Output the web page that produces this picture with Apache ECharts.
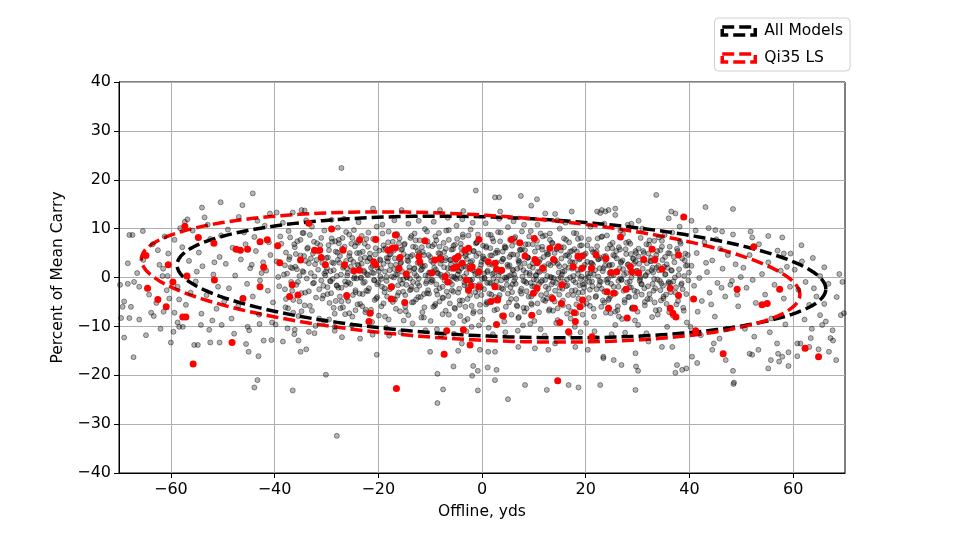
<!DOCTYPE html>
<html>
<head>
<meta charset="utf-8">
<title>Offline vs carry</title>
<script src="https://cdn.jsdelivr.net/npm/echarts@6.0.0/dist/echarts.min.js"></script>
<style>
  html, body { margin: 0; padding: 0; background: #fff; }
  #chart { width: 966px; height: 544px; }
</style>
</head>
<body>
<div id="chart"></div>
<script>
// tick labels
var xTicks = [-60, -40, -20, 0, 20, 40, 60];
var legendNames = ['All Models', 'Qi35 LS'];

// ellipses: [centre x, centre y, semi-major, semi-minor, angle deg]
var allModelsEllipse = [3.75, 0.1, 62.6, 12.2, -2.33];
var qi35Ellipse = [-2.2, 0.1, 63.6, 12.8, -3.38];

// all models shots [offline yds, % of mean carry]
var grayPts = [
  // sparse outer shots
  [-27.1,22.4],[-50.4,15.4],[-54.0,14.3],[-44.2,17.2],[-46.2,14.8],[-39.6,13.3],[-36.5,13.3],[-34.8,13.8],[-34.2,13.7],[-56.8,11.9],[-57.3,11.4],[-65.4,9.5],[-68.0,8.7],[-67.4,8.7],[-59.3,7.7],[-68.3,2.9],
  [-1.2,17.8],[2.5,16.4],[3.3,16.4],[7.5,16.7],[9.5,14.7],[10.6,16.0],[-8.1,13.8],[-3.6,13.6],[-15.5,13.8],[-21.0,14.1],[3.5,13.5],[12.2,13.1],[14.1,13.0],[17.3,13.5],[22.2,13.5],[23.1,13.8],
  [33.6,16.9],[43.1,14.4],[48.4,14.0],[36.5,13.5],[37.3,13.1],[36.0,12.1],[30.2,11.6],[25.7,14.1],[24.4,13.8],[23.8,13.5],[22.8,13.2],[25.7,12.8],[40.4,11.6],[43.7,10.1],[45.0,9.7],[46.3,9.4],[51.8,9.4],[52.1,8.2],[55.2,8.5],[57.9,8.2],[61.6,6.6],[58.2,4.9],[59.5,4.9],[66.0,2.1],[68.9,0.7],[69.5,-0.9],[69.8,-7.3],[69.2,-7.7],[64.0,-2.2],[65.2,-7.7],[66.3,-9.0],[65.6,-9.7],[67.2,-12.4],[67.7,-12.9],[66.9,-15.2],[68.3,-16.9],[64.9,-14.7],[63.1,-14.2],[60.8,-13.5],[61.4,-13.5],[60.8,-16.1],[63.6,-10.5],[63.4,-12.4],[59.1,-15.3],[57.1,-15.6],[57.3,-17.2],[59.1,-18.1],[55.2,-18.6],[55.7,-16.9],[57.9,-16.2],[56.9,-13.5],[53.3,-14.8],[52.1,-15.8],[51.6,-15.6],[48.4,-19.1],[48.6,-21.5],[47.0,-16.9],[44.4,-14.8],[44.7,-13.5],[40.5,-16.2],[41.5,-17.5],[37.6,-17.9],[38.6,-18.9],[37.3,-19.5],[39.4,-18.6],[29.7,-18.2],[30.1,-19.1],[26.9,-17.9],[29.6,-23.0],[22.8,-22.0],[23.4,-16.5],[25.4,-16.9],[29.6,-15.5],[34.7,-14.2],[36.7,-14.2],[32.1,-13.1],
  [-20.3,-15.8],[-10.0,-15.2],[-5.5,-18.2],[-8.6,-19.7],[-7.5,-22.9],[-1.7,-18.1],[-0.8,-19.1],[-1.9,-20.1],[-0.8,-23.1],[1.1,-18.4],[2.8,-18.9],[2.5,-21.0],[8.3,-22.0],[5.0,-24.9],[12.5,-23.0],[16.7,-22.0],[18.6,-22.5],[23.4,-16.2],[-4.6,-15.0],[-3.9,-13.5],[-0.4,-14.8],[1.2,-15.2],[2.5,-15.2],[7.0,-14.2],[10.2,-14.5],[12.8,-14.8],[14.1,-13.5],[18.0,-14.2],[20.4,-14.8],
  [-43.9,-22.5],[-36.5,-23.1],[-8.6,-25.7],[-28.0,-32.4],[48.5,-21.8],
  [-69.0,-12.3],[-67.2,-16.3],[-60.0,-13.3],[-59.5,-11.1],[-58.7,-9.2],[-58.4,-10.1],[-57.7,-10.1],[-55.5,-13.8],[-54.8,-13.8],[-52.4,-13.3],[-50.6,-13.3],[-54.2,-9.7],[-52.6,-10.7],[-50.2,-9.7],[-45.5,-13.6],[-43.1,-16.1],[-43.3,-21.0],[-42.1,-12.9],[-40.6,-12.8],[-38.4,-13.1],[-35.0,-15.2],[-33.9,-14.7],[-30.1,-19.9],[-45.2,-10.1],[-42.9,-9.5],[-36.1,-10.7],[-33.4,-11.1],[-32.3,-11.4],[-28.4,-10.1],[-66.1,-8.6],[-68.0,-8.3],[-69.6,-8.3],[-67.7,-6.0],[-69.0,-4.9],[-69.3,-6.0],[-69.8,-1.5],[-68.3,-1.3],[-67.1,-0.9],[-66.1,-1.9],[-63.8,-7.2],[-63.3,-7.9],[-61.4,-7.0],[-59.3,-7.2],[-58.4,-4.5],[-60.3,-4.3],[-58.7,-1.9],[-60.6,0.3],[-61.6,0.3],[-62.2,2.6],[-62.5,5.6],[-65.3,3.6],
  // -70 .. -50
  [-64.2,-3.5],[-62.8,-5.2],[-61.5,1.8],[-63.5,6.8],[-60.8,-2.6],[-66.5,0.9],[-61.2,8.4],[-62.0,-10.5],[-64.8,-11.8],[-60.5,4.9],
  [-57.8,6.2],[-56.5,3.4],[-55.2,-0.8],[-54.6,5.1],[-53.9,2.3],[-53.1,-3.6],[-52.4,7.9],[-51.8,0.6],[-51.2,-6.4],[-50.6,4.2],[-56.2,-3.1],[-55.8,9.6],[-54.1,-7.4],[-52.9,10.8],[-50.9,-1.9],[-57.1,-5.6],[-53.5,12.3],[-51.6,3.1],[-58.2,10.1],[-55.0,1.2],[-52.0,-8.8],[-50.3,8.6],
  // -50 .. -30
  [-49.4,2.8],[-48.8,-2.2],[-48.1,6.1],[-47.6,0.4],[-47.0,-5.8],[-46.5,3.7],[-45.9,9.2],[-45.3,-1.3],[-44.7,1.9],[-44.2,-3.9],[-43.6,5.4],[-43.0,-7.6],[-42.5,0.9],[-41.9,10.6],[-41.3,-2.7],[-40.8,4.6],[-40.3,-5.1],[-49.0,9.8],[-48.3,-8.4],[-46.9,12.4],[-45.6,6.8],[-44.9,-10.8],[-43.9,8.3],[-42.8,-0.6],[-42.2,3.1],[-41.1,7.2],[-40.5,-9.2],[-47.8,-11.5],[-46.1,-4.2],[-44.4,2.6],[-43.3,11.6],[-41.6,1.4],[-49.7,-4.9],[-45.0,-15.2],[-40.9,13.1],
  [-39.6,3.3],[-39.1,-1.8],[-38.7,6.9],[-38.2,0.6],[-37.8,-4.4],[-37.3,9.5],[-36.9,2.1],[-36.4,-7.2],[-35.9,4.8],[-35.5,-0.9],[-35.0,7.7],[-34.6,1.3],[-34.1,-3.1],[-33.7,5.9],[-33.2,-5.8],[-32.8,10.4],[-32.3,0.2],[-31.9,3.6],[-31.4,-2.4],[-31.0,8.1],[-30.5,-8.9],[-30.2,2.7],[-39.8,-9.6],[-38.4,11.2],[-37.5,-10.4],[-36.1,6.2],[-35.2,-4.9],[-34.4,9.1],[-33.4,2.9],[-32.6,-1.2],[-31.6,5.3],[-30.8,-4.3],[-39.3,0.1],[-38.9,8.4],[-37.1,4.2],[-36.6,-2.7],[-35.7,1.7],[-34.8,-6.9],[-33.9,11.7],[-33.0,3.9],[-32.1,-9.9],[-31.2,6.6],[-30.4,0.8],[-37.9,-6.1],[-36.2,-11.6],[-34.3,4.4],[-32.4,7.3],[-30.6,-1.7],[-38.0,2.5],[-35.4,-12.9],
  // -30 .. -10
  [-29.7,4.1],[-29.3,-0.7],[-28.9,7.3],[-28.6,1.5],[-28.2,-4.8],[-27.8,10.2],[-27.5,3.0],[-27.1,-2.1],[-26.7,5.7],[-26.4,-7.5],[-26.0,0.4],[-25.6,8.8],[-25.3,2.2],[-24.9,-3.6],[-24.5,6.4],[-24.2,-0.2],[-23.8,11.3],[-23.4,3.8],[-23.1,-5.9],[-22.7,1.1],[-22.3,7.9],[-22.0,-2.8],[-21.6,4.9],[-21.2,-9.1],[-20.9,0.9],[-20.5,6.0],[-20.2,-1.4],[-29.5,-8.6],[-29.0,11.8],[-28.4,-10.9],[-27.9,5.1],[-27.3,-6.3],[-26.9,8.1],[-26.2,3.4],[-25.8,-1.0],[-25.1,-9.8],[-24.7,9.7],[-24.0,2.6],[-23.6,-3.3],[-23.0,5.3],[-22.5,-7.1],[-21.9,9.2],[-21.4,2.0],[-20.7,-4.6],[-29.9,1.9],[-28.0,-1.6],[-26.6,12.0],[-25.5,5.0],[-24.4,-6.7],[-23.3,0.0],[-22.1,3.3],[-20.3,10.4],[-29.1,-3.2],[-27.6,7.0],[-26.1,-4.1],[-24.8,1.3],[-23.9,7.1],[-22.6,-0.9],[-21.1,-11.7],[-20.6,2.9],[-27.0,-12.2],[-23.5,-12.5],
  [-19.7,3.7],[-19.4,-0.3],[-19.0,6.6],[-18.7,1.2],[-18.3,-3.9],[-18.0,9.4],[-17.6,2.5],[-17.3,-1.8],[-17.0,5.5],[-16.6,-6.4],[-16.3,0.6],[-15.9,8.0],[-15.6,3.1],[-15.2,-2.9],[-14.9,6.9],[-14.5,0.1],[-14.2,11.0],[-13.8,4.3],[-13.5,-5.1],[-13.1,1.8],[-12.8,7.6],[-12.4,-1.2],[-12.1,5.0],[-11.7,-8.2],[-11.4,2.3],[-11.0,9.9],[-10.7,-0.8],[-10.3,4.6],[-19.9,-7.8],[-19.2,10.8],[-18.5,-10.3],[-17.8,4.7],[-17.1,-4.4],[-16.4,8.7],[-15.8,-0.5],[-15.1,-8.8],[-14.4,3.5],[-13.7,-2.4],[-13.0,9.0],[-12.3,-4.0],[-11.6,6.2],[-10.9,-10.8],[-10.2,1.0],[-19.5,1.9],[-18.8,-2.2],[-18.1,7.2],[-17.4,0.2],[-16.8,3.9],[-16.1,-3.1],[-15.4,5.8],[-14.7,-6.9],[-14.0,1.4],[-13.3,6.3],[-12.6,0.3],[-11.9,3.0],[-11.2,-3.4],[-10.5,7.4],[-19.0,-5.3],[-17.9,-11.9],[-16.9,11.7],[-15.7,-11.2],[-14.6,-1.5],[-13.4,-9.4],[-12.2,11.6],[-11.1,-6.1],[-10.4,-2.6],[-18.4,4.0],[-16.2,1.6],[-13.9,-0.2],[-11.8,1.5],
  // -10 .. 10
  [-9.8,3.4],[-9.5,-0.6],[-9.2,6.8],[-8.9,1.6],[-8.6,-3.5],[-8.3,9.1],[-8.0,2.8],[-7.6,-1.9],[-7.3,5.2],[-7.0,-6.8],[-6.7,0.7],[-6.4,7.7],[-6.1,3.6],[-5.8,-2.6],[-5.5,6.5],[-5.2,-0.1],[-4.9,10.6],[-4.6,4.0],[-4.3,-4.7],[-4.0,1.9],[-3.7,8.3],[-3.4,-1.0],[-3.1,4.8],[-2.8,-8.5],[-2.5,2.4],[-2.2,9.8],[-1.9,-0.4],[-1.6,5.4],[-1.3,-3.0],[-1.0,7.1],[-0.7,0.9],[-0.4,-5.6],[-0.1,3.2],[-9.9,-8.9],[-9.3,11.4],[-8.7,-10.6],[-8.1,4.9],[-7.5,-4.2],[-6.9,9.6],[-6.2,-0.9],[-5.6,-9.3],[-5.0,2.9],[-4.4,-2.3],[-3.8,11.9],[-3.2,-6.0],[-2.6,6.0],[-2.0,-10.1],[-1.4,1.3],[-0.8,8.8],[-0.2,-2.0],[-9.6,1.1],[-8.8,-1.4],[-8.2,6.3],[-7.7,0.1],[-7.1,3.5],[-6.5,-3.8],[-5.9,5.7],[-5.3,-6.2],[-4.7,0.6],[-4.1,6.9],[-3.5,0.2],[-2.9,3.8],[-2.3,-3.6],[-1.7,-7.3],[-1.1,4.4],[-0.5,-1.4],[-9.0,-5.4],[-7.9,-11.8],[-6.6,12.2],[-5.4,-11.5],[-4.2,-7.9],[-3.0,-11.0],[-1.8,11.2],[-0.6,-9.8],[-6.0,1.8],
  [0.2,3.9],[0.5,-0.2],[0.8,6.4],[1.1,1.4],[1.4,-3.3],[1.7,8.7],[2.0,2.6],[2.3,-1.6],[2.6,5.0],[2.9,-6.5],[3.2,0.4],[3.5,7.4],[3.8,3.3],[4.1,-2.4],[4.4,6.1],[4.7,0.0],[5.0,10.3],[5.3,4.2],[5.6,-4.4],[5.9,1.6],[6.2,8.0],[6.5,-1.3],[6.8,4.6],[7.1,-8.1],[7.4,2.1],[7.7,9.4],[8.0,-0.7],[8.3,5.6],[8.6,-2.8],[8.9,6.8],[9.2,0.5],[9.5,-5.3],[9.8,2.9],[0.1,-8.6],[0.7,11.1],[1.3,-10.3],[1.9,4.5],[2.5,-4.0],[3.1,9.3],[3.7,-0.6],[4.3,-9.0],[4.9,2.6],[5.5,-2.0],[6.1,11.5],[6.7,-5.7],[7.3,5.7],[7.9,-9.8],[8.5,1.0],[9.1,8.4],[9.7,-1.8],[0.4,0.8],[1.0,-1.1],[1.6,6.0],[2.2,-0.2],[2.8,3.1],[3.4,-3.6],[4.0,5.3],[4.6,-6.0],[5.2,0.3],[5.8,6.5],[6.4,-0.1],[7.0,3.5],[7.6,-3.3],[8.2,-7.0],[8.8,4.0],[9.4,-1.1],[0.9,-5.0],[2.1,-11.6],[3.3,12.0],[4.5,-11.2],[5.7,-7.6],[6.9,-10.9],[8.1,10.8],[9.3,-9.5],[6.0,1.5],
  // 10 .. 30
  [10.2,3.6],[10.5,-0.5],[10.8,6.2],[11.1,1.1],[11.4,-3.6],[11.7,8.4],[12.0,2.3],[12.3,-1.9],[12.6,4.7],[12.9,-6.8],[13.2,0.1],[13.5,7.1],[13.8,3.0],[14.1,-2.7],[14.4,5.8],[14.7,-0.3],[15.0,10.0],[15.3,3.9],[15.6,-4.7],[15.9,1.3],[16.2,7.7],[16.5,-1.6],[16.8,4.3],[17.1,-8.4],[17.4,1.8],[17.7,9.1],[18.0,-1.0],[18.3,5.3],[18.6,-3.1],[18.9,6.5],[19.2,0.2],[19.5,-5.6],[19.8,2.6],[10.1,-8.9],[10.7,10.8],[11.3,-10.6],[11.9,4.2],[12.5,-4.3],[13.1,9.0],[13.7,-0.9],[14.3,-9.3],[14.9,2.3],[15.5,-2.3],[16.1,11.2],[16.7,-6.0],[17.3,5.4],[17.9,-10.1],[18.5,0.7],[19.1,8.1],[19.7,-2.1],[10.4,0.5],[11.0,-1.4],[11.6,5.7],[12.2,-0.5],[12.8,2.8],[13.4,-3.9],[14.0,5.0],[14.6,-6.3],[15.2,0.0],[15.8,6.2],[16.4,-0.4],[17.0,3.2],[17.6,-3.6],[18.2,-7.3],[18.8,3.7],[19.4,-1.4],[12.1,-11.9],[14.5,11.7],[16.9,-11.5],[19.0,-11.2],
  [20.3,3.2],[20.7,-0.9],[21.1,5.8],[21.5,0.7],[21.9,-4.0],[22.3,8.0],[22.7,1.9],[23.1,-2.3],[23.5,4.3],[23.9,-7.2],[24.3,-0.3],[24.7,6.7],[25.1,2.6],[25.5,-3.1],[25.9,5.4],[26.3,-0.7],[26.7,9.6],[27.1,3.5],[27.5,-5.1],[27.9,0.9],[28.3,7.3],[28.7,-2.0],[29.1,3.9],[29.5,-8.8],[29.9,1.4],[20.1,-9.3],[20.9,10.4],[21.7,-11.0],[22.5,3.8],[23.3,-4.7],[24.1,8.6],[24.9,-1.3],[25.7,-9.7],[26.5,1.9],[27.3,-2.7],[28.1,10.8],[28.9,-6.4],[29.7,5.0],[20.5,0.1],[21.3,-1.8],[22.1,5.3],[22.9,-0.9],[23.7,2.4],[24.5,-4.3],[25.3,4.6],[26.1,-6.7],[26.9,-0.4],[27.7,5.8],[28.5,-0.8],[29.3,2.8],[20.8,-5.8],[22.0,-12.4],[23.6,11.0],[25.0,-11.6],[26.4,-8.0],[27.6,-11.3],[28.8,11.0],[29.6,-3.9],[24.6,0.9],[21.4,2.6],[26.8,3.0],[28.2,-4.0],
  // 30 .. 70
  [30.3,2.8],[30.7,-1.3],[31.1,5.4],[31.5,0.3],[31.9,-4.4],[32.3,7.6],[32.7,1.5],[33.1,-2.7],[33.5,3.9],[33.9,-7.6],[34.3,-0.7],[34.7,6.3],[35.1,2.2],[35.5,-3.5],[35.9,5.0],[36.3,-1.1],[36.7,9.2],[37.1,3.1],[37.5,-5.5],[37.9,0.5],[38.3,6.9],[38.7,-2.4],[39.1,3.5],[39.5,-9.2],[39.9,1.0],[30.1,-9.7],[30.9,10.0],[31.7,-11.4],[32.5,3.4],[33.3,-5.1],[34.1,8.2],[34.9,-1.7],[35.7,-10.1],[36.5,1.5],[37.3,-3.1],[38.1,10.4],[38.9,-6.8],[39.7,4.6],[30.5,-0.3],[31.3,-2.2],[32.1,4.9],[32.9,-1.3],[33.7,2.0],[34.5,-4.7],[35.3,4.2],[36.1,-7.1],[36.9,-0.8],[37.7,5.4],[38.5,-1.2],[39.3,2.4],
  [40.4,2.4],[40.9,-1.7],[41.4,5.0],[41.9,-0.1],[42.4,-4.8],[42.9,7.2],[43.4,1.1],[43.9,-3.1],[44.4,3.5],[44.9,-8.0],[45.4,-1.1],[45.9,5.9],[46.4,1.8],[46.9,-3.9],[47.4,4.6],[47.9,-1.5],[48.4,8.8],[48.9,2.7],[49.4,-5.9],[49.9,0.1],[40.2,-10.1],[41.2,9.6],[42.2,-11.8],[43.2,3.0],[44.2,-5.5],[45.2,7.8],[46.2,-2.1],[47.2,-10.5],[48.2,-0.7],[49.2,-3.5],[41.6,-7.0],[45.8,-12.5],
  [50.4,2.0],[51.0,-2.1],[51.6,4.6],[52.2,-0.5],[52.8,-5.2],[53.4,6.8],[54.0,0.7],[54.6,-3.5],[55.2,3.1],[55.8,-8.4],[56.4,-1.5],[57.0,5.5],[57.6,1.4],[58.2,-4.3],[58.8,2.2],[59.4,-1.9],[50.7,-10.5],[52.5,-12.1],[55.5,-11.2],[58.5,-9.6],
  [60.3,1.6],[61.0,-2.5],[61.7,3.3],[62.4,-0.9],[63.1,-5.6],[63.8,4.0],[64.5,-3.9],[65.2,0.3],[66.0,-5.4],[66.8,-1.3],[67.6,-10.8],[68.4,-4.0],[62.2,-8.6],
  // dense core, second pass
  [-38.0,-2.4],[-37.8,5.1],[-37.6,0.8],[-37.4,-6.3],[-37.2,3.7],[-37.0,8.2],[-36.8,-0.9],[-36.6,1.9],[-36.4,-4.6],[-36.2,6.8],
  [-36.0,2.2],[-35.8,-1.5],[-35.6,7.4],[-35.4,-7.9],[-35.2,0.3],[-35.0,4.5],[-34.8,-3.2],[-34.6,9.1],[-34.4,1.1],[-34.2,-5.7],
  [-34.0,3.4],[-33.8,-0.2],[-33.6,6.1],[-33.4,-2.8],[-33.2,8.7],[-33.0,0.9],[-32.8,-6.8],[-32.6,4.9],[-32.4,-1.1],[-32.2,2.7],
  [-32.0,-4.1],[-31.8,7.0],[-31.6,1.6],[-31.4,-8.4],[-31.2,5.6],[-31.0,-0.6],[-30.8,3.0],[-30.6,-3.7],[-30.4,9.6],[-30.2,0.4],
  [-30.0,4.0],[-29.8,-2.0],[-29.6,6.6],[-29.4,-5.2],[-29.2,1.3],[-29.0,8.0],[-28.8,-0.3],[-28.6,2.9],[-28.4,-7.4],[-28.2,5.3],
  [-28.0,-1.7],[-27.8,3.6],[-27.6,7.7],[-27.4,-3.9],[-27.2,0.6],[-27.0,5.9],[-26.8,-6.1],[-26.6,2.3],[-26.4,-0.8],[-26.2,9.3],
  [-26.0,1.8],[-25.8,-4.8],[-25.6,4.4],[-25.4,-1.3],[-25.2,6.9],[-25.0,-8.0],[-24.8,3.2],[-24.6,0.1],[-24.4,-2.6],[-24.2,7.2],
  [-24.0,-5.5],[-23.8,2.5],[-23.6,5.0],[-23.4,-0.1],[-23.2,8.5],[-23.0,-3.4],[-22.8,1.4],[-22.6,4.1],[-22.4,-6.6],[-22.2,0.7],
  [-22.0,6.3],[-21.8,-2.2],[-21.6,3.9],[-21.4,-7.2],[-21.2,1.0],[-21.0,7.9],[-20.8,-0.5],[-20.6,4.7],[-20.4,-4.3],[-20.2,2.0],
  [-20.0,-1.0],[-19.8,5.5],[-19.6,0.2],[-19.4,-5.9],[-19.2,9.0],[-19.0,2.8],[-18.8,-3.0],[-18.6,6.0],[-18.4,-0.7],[-18.2,3.3],
  [-18.0,-8.6],[-17.8,1.5],[-17.6,4.8],[-17.4,-2.1],[-17.2,7.3],[-17.0,0.0],[-16.8,-4.5],[-16.6,2.6],[-16.4,8.9],[-16.2,-1.6],
  [-16.0,3.8],[-15.8,-6.9],[-15.6,5.7],[-15.4,1.2],[-15.2,-0.4],[-15.0,6.7],[-14.8,-3.6],[-14.6,0.5],[-14.4,4.3],[-14.2,-7.7],
  [-14.0,2.1],[-13.8,8.1],[-13.6,-1.9],[-13.4,4.6],[-13.2,-5.0],[-13.0,0.8],[-12.8,6.2],[-12.6,-2.5],[-12.4,3.0],[-12.2,-0.2],
  [-12.0,7.6],[-11.8,-4.0],[-11.6,1.7],[-11.4,5.2],[-11.2,-8.2],[-11.0,2.4],[-10.8,-1.2],[-10.6,9.4],[-10.4,0.3],[-10.2,-3.3],
  [-10.0,4.2],[-9.8,-0.9],[-9.6,6.4],[-9.4,-6.0],[-9.2,2.0],[-9.0,8.4],[-8.8,-2.7],[-8.6,1.0],[-8.4,5.0],[-8.2,-4.9],
  [-8.0,0.6],[-7.8,3.5],[-7.6,-7.5],[-7.4,7.1],[-7.2,-0.6],[-7.0,4.0],[-6.8,-2.9],[-6.6,1.9],[-6.4,9.7],[-6.2,-5.3],
  [-6.0,2.7],[-5.8,-1.4],[-5.6,5.8],[-5.4,0.1],[-5.2,-6.4],[-5.0,3.6],[-4.8,7.9],[-4.6,-3.1],[-4.4,1.3],[-4.2,-0.1],
  [-4.0,6.0],[-3.8,-4.7],[-3.6,2.3],[-3.4,-8.9],[-3.2,4.4],[-3.0,0.9],[-2.8,-2.0],[-2.6,8.6],[-2.4,-0.5],[-2.2,3.1],
  [-2.0,-5.8],[-1.8,1.5],[-1.6,5.4],[-1.4,-1.7],[-1.2,7.0],[-1.0,-3.8],[-0.8,0.4],[-0.6,4.9],[-0.4,-7.0],[-0.2,2.6],
  [0.0,-0.3],[0.2,6.5],[0.4,-2.4],[0.6,3.7],[0.8,-5.5],[1.0,1.1],[1.2,8.8],[1.4,-1.0],[1.6,4.5],[1.8,-3.5],
  [2.0,0.7],[2.2,7.4],[2.4,-6.7],[2.6,2.9],[2.8,-0.8],[3.0,5.1],[3.2,-4.2],[3.4,1.6],[3.6,9.2],[3.8,-2.2],
  [4.0,3.8],[4.2,-7.8],[4.4,0.0],[4.6,6.1],[4.8,-1.5],[5.0,2.2],[5.2,-5.1],[5.4,7.7],[5.6,0.5],[5.8,-3.0],
  [6.0,4.7],[6.2,-0.7],[6.4,8.3],[6.6,-4.4],[6.8,1.8],[7.0,-8.3],[7.2,3.3],[7.4,5.6],[7.6,-2.3],[7.8,0.2],
  [8.0,-6.2],[8.2,2.9],[8.4,6.8],[8.6,-1.1],[8.8,4.1],[9.0,-3.9],[9.2,0.9],[9.4,9.5],[9.6,-5.6],[9.8,2.0],
  [10.0,-0.4],[10.2,5.3],[10.4,-2.8],[10.6,7.5],[10.8,1.2],[11.0,-7.1],[11.2,3.7],[11.4,-0.9],[11.6,6.3],[11.8,-4.6],
  [12.0,1.4],[12.2,8.6],[12.4,-3.3],[12.6,0.3],[12.8,4.8],[13.0,-6.5],[13.2,2.5],[13.4,-1.4],[13.6,7.0],[13.8,-0.1],
  [14.0,-4.9],[14.2,3.4],[14.4,6.0],[14.6,-8.7],[14.8,1.0],[15.0,-2.1],[15.2,5.5],[15.4,0.6],[15.6,-5.7],[15.8,8.0],
  [16.0,2.3],[16.2,-1.8],[16.4,4.6],[16.6,-3.6],[16.8,7.2],[17.0,0.0],[17.2,-6.9],[17.4,3.1],[17.6,-0.6],[17.8,5.8],
  [18.0,-2.6],[18.2,9.0],[18.4,1.6],[18.6,-4.3],[18.8,3.9],[19.0,-0.3],[19.2,6.6],[19.4,-7.6],[19.6,2.1],[19.8,-1.3],
  [20.0,4.9],[20.2,-5.3],[20.4,0.8],[20.6,7.8],[20.8,-2.5],[21.0,3.0],[21.2,-0.8],[21.4,5.2],[21.6,-8.0],[21.8,1.5],
  [22.0,-3.8],[22.2,6.4],[22.4,0.2],[22.6,-1.6],[22.8,4.0],[23.0,-6.0],[23.2,8.4],[23.4,1.9],[23.6,-2.9],[23.8,3.5],
  [24.0,-0.5],[24.2,5.9],[24.4,-4.6],[24.6,2.6],[24.8,-7.3],[25.0,0.4],[25.2,7.1],[25.4,-1.9],[25.6,4.4],[25.8,-3.2],
  [26.0,1.2],[26.2,-5.9],[26.4,6.2],[26.6,-0.2],[26.8,3.2],[27.0,-8.5],[27.2,8.9],[27.4,0.6],[27.6,-2.4],[27.8,4.8],
  [28.0,-1.0],[28.2,2.7],[28.4,-4.0],[28.6,6.9],[28.8,0.0],[29.0,-6.3],[29.2,3.8],[29.4,-2.7],[29.6,5.4],[29.8,1.3],
  [30.0,-7.0],[30.2,4.3],[30.4,-0.7],[30.6,8.1],[30.8,-3.5],[31.0,1.8],[31.2,5.0],[31.4,-5.0],[31.6,0.5],[31.8,2.9],
  [32.0,-1.8],[32.2,6.7],[32.4,-4.4],[32.6,3.3],[32.8,-8.1],[33.0,1.0],[33.2,7.5],[33.4,-2.2],[33.6,4.6],[33.8,-0.4],
  [34.0,2.4],[34.2,-6.6],[34.4,5.6],[34.6,-1.2],[34.8,3.6],[35.0,-3.9],[35.2,8.7],[35.4,0.7],[35.6,-5.4],[35.8,2.0],
  [36.0,-0.9],[36.2,6.3],[36.4,-3.0],[36.6,1.4],[36.8,-7.8],[37.0,4.2],[37.2,0.0],[37.4,-2.0],[37.6,5.9],[37.8,-4.8],
  [38.0,1.7],[38.2,7.3],[38.4,-1.5],[38.6,3.9],[38.8,-6.2],[39.0,0.3],[39.2,4.9],[39.4,-3.4],[39.6,2.5],[39.8,-0.6],
  // dense core, third pass
  [-30.1,1.2],[-29.8,-3.4],[-29.5,5.6],[-29.2,-0.8],[-28.9,3.1],[-28.6,-6.2],[-28.3,7.4],[-28.0,0.3],[-27.7,-2.1],[-27.4,4.4],
  [-27.1,-4.9],[-26.8,2.0],[-26.5,6.3],[-26.2,-1.5],[-25.9,0.9],[-25.6,-7.3],[-25.3,3.7],[-25.0,8.1],[-24.7,-0.2],[-24.4,-3.0],
  [-24.1,5.0],[-23.8,1.6],[-23.5,-5.4],[-23.2,2.8],[-22.9,-1.1],[-22.6,6.9],[-22.3,-2.7],[-22.0,0.5],[-21.7,4.0],[-21.4,-6.6],
  [-21.1,2.4],[-20.8,-0.6],[-20.5,7.8],[-20.2,-4.0],[-19.9,1.3],[-19.6,3.5],[-19.3,-1.9],[-19.0,5.7],[-18.7,-8.0],[-18.4,0.1],
  [-18.1,3.9],[-17.8,-2.4],[-17.5,6.0],[-17.2,-5.0],[-16.9,1.7],[-16.6,0.6],[-16.3,-3.7],[-16.0,7.0],[-15.7,2.9],[-15.4,-1.3],
  [-15.1,4.8],[-14.8,-6.0],[-14.5,0.0],[-14.2,3.3],[-13.9,-2.6],[-13.6,8.5],[-13.3,-0.9],[-13.0,1.9],[-12.7,-4.5],[-12.4,5.4],
  [-12.1,-1.7],[-11.8,2.6],[-11.5,-7.1],[-11.2,4.6],[-10.9,0.4],[-10.6,-3.2],[-10.3,6.5],[-10.0,1.0],[-9.7,-0.5],[-9.4,3.0],
  [-9.1,-5.8],[-8.8,7.6],[-8.5,0.8],[-8.2,-2.2],[-7.9,4.2],[-7.6,-4.1],[-7.3,2.1],[-7.0,5.9],[-6.7,-1.0],[-6.4,-7.6],
  [-6.1,3.6],[-5.8,0.2],[-5.5,-2.9],[-5.2,6.7],[-4.9,-0.3],[-4.6,1.4],[-4.3,-5.6],[-4.0,4.9],[-3.7,8.8],[-3.4,-1.6],
  [-3.1,2.2],[-2.8,-4.4],[-2.5,5.2],[-2.2,-0.7],[-1.9,3.4],[-1.6,-6.9],[-1.3,0.7],[-1.0,7.2],[-0.7,-2.5],[-0.4,1.8],
  [-0.1,-3.6],[0.2,4.3],[0.5,-0.1],[0.8,6.1],[1.1,-5.2],[1.4,2.7],[1.7,-1.2],[2.0,8.0],[2.3,0.9],[2.6,-4.7],
  [2.9,5.5],[3.2,-2.0],[3.5,1.1],[3.8,-7.8],[4.1,3.8],[4.4,6.4],[4.7,-0.4],[5.0,-3.3],[5.3,2.5],[5.6,4.7],
  [5.9,-1.4],[6.2,0.6],[6.5,7.3],[6.8,-5.9],[7.1,3.0],[7.4,-2.8],[7.7,5.8],[8.0,1.5],[8.3,-0.8],[8.6,-6.3],
  [8.9,4.1],[9.2,2.3],[9.5,-3.9],[9.8,6.8],[10.1,-1.8],[10.4,0.4],[10.7,-5.3],[11.0,3.2],[11.3,9.0],[11.6,-0.6],
  [11.9,1.9],[12.2,-4.8],[12.5,5.1],[12.8,-2.3],[13.1,7.7],[13.4,0.0],[13.7,-6.8],[14.0,3.6],[14.3,-1.1],[14.6,2.8],
  [14.9,-3.5],[15.2,6.2],[15.5,1.2],[15.8,-0.9],[16.1,4.5],[16.4,-7.4],[16.7,2.0],[17.0,5.3],[17.3,-2.7],[17.6,0.3],
  [17.9,3.1],[18.2,-5.5],[18.5,7.9],[18.8,-1.6],[19.1,1.6],[19.4,-3.0],[19.7,4.6],[20.0,-0.2],[20.3,6.6],[20.6,-4.2],
  [20.9,0.8],[21.2,2.9],[21.5,-6.4],[21.8,5.0],[22.1,-2.4],[22.4,3.7],[22.7,-0.7],[23.0,8.3],[23.3,1.3],[23.6,-5.1],
  [23.9,4.4],[24.2,-1.0],[24.5,2.4],[24.8,-3.8],[25.1,6.0],[25.4,0.5],[25.7,-7.0],[26.0,3.9],[26.3,-1.9],[26.6,5.7],
  [26.9,-0.5],[27.2,1.7],[27.5,-4.6],[27.8,7.1],[28.1,2.6],[28.4,-2.0],[28.7,4.8],[29.0,-6.1],[29.3,0.8],[29.6,3.3],
  [29.9,-2.9],[30.2,5.9],[30.5,0.1],[30.8,-1.4],[31.1,3.5],[31.4,-5.7],[31.7,6.8],[32.0,1.1],[32.3,-3.4],[32.6,4.0],
  [32.9,2.0],[33.2,-0.3],[33.5,-6.7],[33.8,5.4],[34.1,1.5],[34.4,-2.6],[34.7,7.5],[35.0,-4.3],[35.3,0.6],[35.6,2.7],
  [35.9,-1.2],[36.2,4.9]
];

// Qi35 LS shots
var redPts = [
  [-57.3,10.5],[-54.7,8.2],[-51.7,7.0],[-47.4,5.8],[-46.6,5.6],[-45.2,5.8],[-42.8,7.3],[-41.4,7.7],[-39.4,6.5],[-42.1,2.1],[-39.0,3.0],[-35.0,3.6],[-33.4,11.1],[-32.3,5.6],[-31.3,5.6],[-31.0,4.1],[-30.2,2.6],[-29.0,9.9],[-26.8,5.6],[-26.5,2.6],[-24.7,1.4],[-23.6,7.7],[-60.5,2.6],[-56.9,0.3],[-51.6,-0.5],[-64.5,-2.2],[-59.6,-0.9],[-62.5,-4.5],[-60.9,-6.0],[-57.7,-8.1],[-57.1,-8.1],[-42.8,-1.9],[-36.6,-1.5],[-37.1,-3.9],[-35.5,-3.6],[-46.1,-4.3],[-26.1,-3.7],[-48.2,-13.3],[-55.7,-17.7],[-64.8,4.5],[-16.5,-22.7],[14.6,-21.1],
  [-20.5,7.8],[-16.7,8.7],[-11.0,7.5],[-18.1,5.6],[-17.3,6.0],[-16.7,6.1],[-20.9,3.2],[-20.5,2.6],[-23.6,1.5],[-16.0,1.9],[-15.8,4.1],[-14.6,0.7],[-12.2,4.3],[-12.0,3.2],[-9.7,0.9],[-9.1,3.6],[-8.1,3.9],[-7.1,0.2],[-6.6,-0.9],[-5.2,3.9],[-4.6,4.3],[-5.5,1.9],[-4.9,2.2],[-3.8,2.9],[-3.3,5.6],[-2.6,6.0],[-2.3,1.9],[-1.9,2.2],[-3.0,-0.5],[-2.1,-1.7],[-2.6,-2.6],[-0.6,7.8],[-0.6,1.2],[-0.6,-1.9],[-17.5,-1.9],[-17.5,-4.4],[-14.9,-5.1],[-21.6,-7.3],[-21.8,-9.0],[-7.3,-15.7],[-6.8,-10.9],[-3.6,-10.7],[-2.3,-13.8],
  [1.2,3.2],[2.5,2.9],[2.8,1.7],[3.8,1.5],[2.5,-1.9],[1.7,-4.9],[3.0,-4.6],[4.1,-7.9],[2.8,-9.6],[5.7,7.8],[7.3,7.1],[10.1,8.0],[8.3,4.4],[10.2,3.7],[10.6,3.0],[11.7,1.9],[13.8,3.7],[13.1,6.0],[14.7,6.3],[10.6,-2.2],[9.9,-3.2],[9.6,-7.7],[13.6,-4.3],[15.4,-1.5],[15.3,-5.3],[15.0,-9.2],[16.7,-11.1],[17.6,2.2],[18.5,4.3],[19.3,4.4],[19.3,1.9],[21.1,1.9],[22.0,4.6],[19.4,-4.6],[18.9,-6.0],[17.8,-7.2],[18.0,-9.0],[21.2,-12.1],
  [38.9,12.4],[32.8,5.8],[31.2,3.7],[33.3,3.6],[26.7,8.3],[23.9,3.9],[28.6,2.2],[28.9,1.2],[24.9,1.0],[26.0,1.2],[30.2,0.9],[34.7,1.7],[37.9,4.6],[27.8,-2.4],[24.1,-2.9],[25.4,-3.2],[36.3,-2.2],[37.9,-3.7],[40.8,-4.4],[49.2,-2.4],[57.4,-2.4],[24.4,-6.3],[29.4,-6.3],[36.3,-6.3],[36.8,-7.3],[37.4,-8.1],[28.0,-8.3],[54.0,-5.6],[55.0,-5.3],[41.2,-10.9],[46.5,-15.6],[62.3,-14.5],[64.9,-16.2],[52.4,6.3]
];

var FONT = 'DejaVu Sans';
var FS = 15.5;

function minusSign(v) {
    return String(v).replace('-', '\u2212');
}

// dashed outline of an ellipse given in data units
function ellipseRenderer(color) {
    return function (params, api) {
        var cx = api.value(0), cy = api.value(1);
        var a = api.value(2), b = api.value(3);
        var t = api.value(4) * Math.PI / 180;
        var pts = [];
        for (var i = 0; i < 180; i++) {
            var s = i / 180 * Math.PI * 2;
            var ex = a * Math.cos(s), ey = b * Math.sin(s);
            pts.push(api.coord([cx + ex * Math.cos(t) - ey * Math.sin(t),
                                cy + ex * Math.sin(t) + ey * Math.cos(t)]));
        }
        return {
            type: 'polygon',
            shape: { points: pts },
            style: { fill: 'none', stroke: color, lineWidth: 3.5, lineDash: [12, 5] }
        };
    };
}

var dom = document.getElementById('chart');
var myChart = echarts.init(dom);
var option = {
    animation: false,
    backgroundColor: '#fff',
    textStyle: { fontFamily: FONT },
    grid: {
        left: 119, right: 121, top: 82, bottom: 71,
        show: true, borderColor: '#000', borderWidth: 1
    },
    legend: {
        orient: 'vertical',
        right: 116, top: 18,
        padding: [5, 7, 5, 6],
        itemGap: 11,
        itemWidth: 33, itemHeight: 8,
        borderColor: '#d0d0d0', borderWidth: 1, borderRadius: 4,
        textStyle: { fontFamily: FONT, fontSize: FS, color: '#000', padding: [0, 0, 0, 4] },
        data: [
            { name: legendNames[0], icon: 'rect',
              itemStyle: { color: 'rgba(0,0,0,0)', borderColor: '#000', borderWidth: 3.5, borderType: [12, 5] } },
            { name: legendNames[1], icon: 'rect',
              itemStyle: { color: 'rgba(0,0,0,0)', borderColor: '#ff0000', borderWidth: 3.5, borderType: [12, 5] } }
        ]
    },
    xAxis: {
        type: 'value',
        min: -70, max: 70,
        name: 'Offline, yds',
        nameLocation: 'middle',
        nameGap: 31,
        nameTextStyle: { fontFamily: FONT, fontSize: FS, color: '#000' },
        axisLine: { show: true, onZero: false, lineStyle: { color: '#000', width: 1 } },
        axisTick: { show: true, inside: false, length: 5, customValues: xTicks, lineStyle: { color: '#000' } },
        axisLabel: { customValues: xTicks, fontFamily: FONT, fontSize: 16, color: '#000', margin: 9, formatter: minusSign },
        splitLine: { show: true, lineStyle: { color: '#b0b0b0', width: 1 } }
    },
    yAxis: {
        type: 'value',
        min: -40, max: 40, interval: 10,
        name: 'Percent of Mean Carry',
        nameLocation: 'middle',
        nameGap: 52,
        nameTextStyle: { fontFamily: FONT, fontSize: FS, color: '#000' },
        axisLine: { show: true, onZero: false, lineStyle: { color: '#000', width: 1 } },
        axisTick: { show: true, inside: false, length: 5, lineStyle: { color: '#000' } },
        axisLabel: { fontFamily: FONT, fontSize: 16, color: '#000', margin: 8, formatter: minusSign },
        splitLine: { show: true, lineStyle: { color: '#b0b0b0', width: 1 } }
    },
    series: [
        {
            name: 'All shots',
            type: 'scatter',
            data: grayPts,
            symbolSize: 5,
            silent: true,
            itemStyle: { color: 'rgba(0,0,0,0.36)', borderColor: 'rgba(0,0,0,0.5)', borderWidth: 1 }
        },
        {
            name: 'Qi35 shots',
            type: 'scatter',
            data: redPts,
            symbolSize: 7,
            silent: true,
            itemStyle: { color: '#ff0000', opacity: 1 }
        },
        {
            name: legendNames[0],
            type: 'custom',
            data: [allModelsEllipse],
            encode: { x: 0, y: 1 },
            silent: true,
            renderItem: ellipseRenderer('#000000')
        },
        {
            name: legendNames[1],
            type: 'custom',
            data: [qi35Ellipse],
            encode: { x: 0, y: 1 },
            silent: true,
            renderItem: ellipseRenderer('#ff0000')
        }
    ]
};
if (option && typeof option === "object") {
    myChart.setOption(option, true);
}
</script>
</body>
</html>
